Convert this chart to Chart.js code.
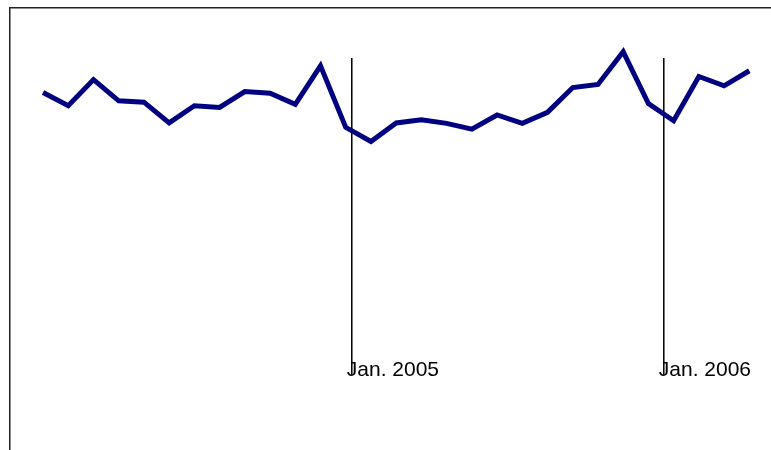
<!DOCTYPE html>
<html>
<head>
<meta charset="utf-8">
<script src="https://cdn.jsdelivr.net/npm/chart.js@4"></script>
<style>
  html,body{margin:0;padding:0;background:#fff;}
  #wrap{width:771px;height:450px;position:relative;}
</style>
</head>
<body>
<div id="wrap"><canvas id="myChart"></canvas></div>
<script>
// monthly index (0 = first month shown)
var months=[0,1,2,3,4,5,6,7,8,9,10,11,12,13,14,15,16,17,18,19,20,21,22,23,24,25,26,27,28];
var values=[80.9,77.9,83.8,79.0,78.7,74.0,77.9,77.5,81.1,80.7,78.2,86.9,73.0,69.8,74.0,74.7,73.9,72.6,75.8,73.9,76.4,82.0,82.7,90.1,78.4,74.5,84.5,82.4,85.8];
// year markers
var markerPos=[12.24,24.61];
var markerLabels=["Jan. 2005","Jan. 2006"];
var markerTop=88.7;
var markerBottom=17.0;

var lineData=[];
for(let ii=0;ii<months.length;ii++){
  lineData.push({x:months[ii],y:values[ii]});
}

var datasets=[{
  data:lineData,
  borderColor:"#000080",
  borderWidth:5,
  pointRadius:0,
  fill:false,
  tension:0
}];
for(let jj=0;jj<markerPos.length;jj++){
  datasets.push({
    data:[{x:markerPos[jj],y:markerTop},{x:markerPos[jj],y:markerBottom}],
    borderColor:"#000",
    borderWidth:1.5,
    pointRadius:0,
    fill:false
  });
}

// marker texts, placed through the scales
const markerText={
  id:"markerText",
  afterDatasetsDraw(chart){
    const ctx=chart.ctx;
    const xs=chart.scales.x, ys=chart.scales.y;
    ctx.save();
    ctx.font="21px 'Liberation Sans', Arial, sans-serif";
    ctx.fillStyle="#000";
    ctx.textBaseline="alphabetic";
    ctx.textAlign="left";
    for(let kk=0;kk<markerLabels.length;kk++){
      ctx.fillText(markerLabels[kk],xs.getPixelForValue(markerPos[kk])-5,ys.getPixelForValue(markerBottom)+1);
    }
    ctx.restore();
  }
};

new Chart(document.getElementById("myChart"),{
  type:"line",
  data:{datasets:datasets},
  options:{
    responsive:true,
    maintainAspectRatio:false,
    animation:false,
    layout:{padding:{left:10,top:8,right:0,bottom:0}},
    plugins:{legend:{display:false},tooltip:{enabled:false}},
    scales:{
      x:{
        type:"linear",position:"top",min:-1.31,max:28.86,
        ticks:{display:false},
        grid:{display:false,drawTicks:false},
        border:{display:true,color:"#222",width:1.5}
      },
      y:{
        min:0,max:100,
        ticks:{display:false},
        grid:{display:false,drawTicks:false},
        border:{display:true,color:"#222",width:1.5}
      }
    }
  },
  plugins:[markerText]
});
</script>
</body>
</html>
